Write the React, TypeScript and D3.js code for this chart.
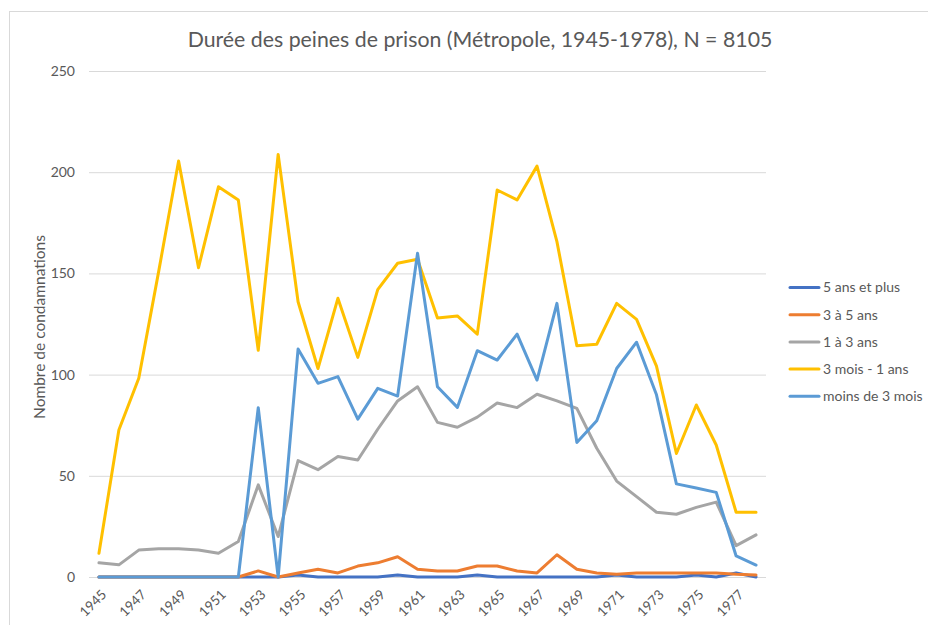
import React, { useEffect, useRef } from 'react'
import * as d3 from 'd3'

const years = d3.range(1945, 1979)

const fivePlus = [0, 0, 0, 0, 0, 0, 0, 0, 0, 0, 1, 0, 0, 0, 0, 1, 0, 0, 0, 1, 0, 0, 0, 0, 0, 0, 1, 0, 0, 0, 1, 0, 2, 0]
const threeToFive = [0, 0, 0, 0, 0, 0, 0, 0, 3, 0, 2, 3.8, 2, 5.4, 7, 10, 3.8, 3, 3, 5.4, 5.4, 3, 2, 11, 3.8, 2, 1.3, 2, 2, 2, 2, 2, 1.3, 1]
const oneToThree = [7, 6, 13.3, 14, 14, 13.3, 11.7, 17.5, 45.5, 20, 57.5, 53, 59.5, 57.8, 73, 87, 94, 76.4, 74, 79, 86, 83.7, 90.3, 87, 83.3, 63.6, 47.4, 39.7, 32, 31, 34.4, 37, 15.5, 20.8]
const threeMonthsToOne = [11.7, 72.6, 98.2, 151, 205.5, 152.8, 192.8, 186.3, 112, 208.8, 136, 103, 137.7, 108.5, 142, 155, 157, 128, 129, 120, 191.2, 186.3, 203, 165.7, 114.3, 115, 135.2, 127.3, 104.2, 61, 85, 65.2, 32, 32]
const underThreeMonths = [0, 0, 0, 0, 0, 0, 0, 0, 83.6, 0, 112.6, 95.7, 99, 78, 93.2, 89.4, 160, 94, 83.8, 111.8, 107.2, 120, 97.3, 135.2, 66.5, 77.2, 103, 116, 90, 46, 44, 41.8, 10.4, 5.9]

const seriesNames = ['5 ans et plus', '3 à 5 ans', '1 à 3 ans', '3 mois - 1 ans', 'moins de 3 mois']
const seriesColors = ['#4472C4', '#ED7D31', '#A5A5A5', '#FFC000', '#5B9BD5']
const yTicks = [0, 50, 100, 150, 200, 250]

const series = [fivePlus, threeToFive, oneToThree, threeMonthsToOne, underThreeMonths]

const App: React.FC = () => {
  const svgRef = useRef<SVGSVGElement | null>(null)

  useEffect(() => {
    if (!svgRef.current) {
      return
    }
    const width = 928
    const height = 625
    const font = 'Lato, "Open Sans", sans-serif'
    const textColor = '#595959'

    const svg = d3.select(svgRef.current)
    svg.selectAll('*').remove()

    // chart frame, cropped on the right and bottom
    svg
      .append('rect')
      .attr('x', 9.5)
      .attr('y', 11.5)
      .attr('width', width + 20)
      .attr('height', height + 20)
      .attr('fill', '#fff')
      .attr('stroke', '#d9d9d9')

    const xScale = d3
      .scaleBand<number>()
      .domain(years)
      .range([89, 766])
    const xPos = (year: number) => (xScale(year) ?? 0) + xScale.bandwidth() / 2

    const yScale = d3.scaleLinear().domain([0, 250]).range([577, 71])

    svg
      .append('text')
      .attr('x', 480)
      .attr('y', 47)
      .attr('text-anchor', 'middle')
      .attr('font-family', font)
      .attr('font-size', 21.3)
      .attr('fill', textColor)
      .text('Durée des peines de prison (Métropole, 1945-1978), N = 8105')

    const grid = svg.append('g')
    grid
      .selectAll('line')
      .data(yTicks)
      .enter()
      .append('line')
      .attr('x1', 89)
      .attr('x2', 766)
      .attr('y1', (d) => yScale(d) + 0.5)
      .attr('y2', (d) => yScale(d) + 0.5)
      .attr('stroke', '#d9d9d9')
      .attr('stroke-width', 1)

    grid
      .selectAll('text')
      .data(yTicks)
      .enter()
      .append('text')
      .attr('x', 75)
      .attr('y', (d) => yScale(d))
      .attr('dy', '0.35em')
      .attr('text-anchor', 'end')
      .attr('font-family', font)
      .attr('font-size', 14)
      .attr('fill', textColor)
      .text((d) => String(d))

    svg
      .append('text')
      .attr('transform', `translate(45, 327) rotate(-90)`)
      .attr('text-anchor', 'middle')
      .attr('font-family', font)
      .attr('font-size', 15.5)
      .attr('fill', textColor)
      .text('Nombre de condamnations')

    svg
      .append('g')
      .selectAll('text')
      .data(years.filter((y) => (y - 1945) % 2 === 0))
      .enter()
      .append('text')
      .attr('transform', (d) => `translate(${xPos(d) + 5}, 592) rotate(-45)`)
      .attr('text-anchor', 'end')
      .attr('dy', '0.35em')
      .attr('font-family', font)
      .attr('font-size', 13.5)
      .attr('fill', textColor)
      .text((d) => String(d))

    const line = d3
      .line<number>()
      .x((_, i) => xPos(years[i]))
      .y((d) => yScale(d))

    svg
      .append('g')
      .selectAll('path')
      .data(series)
      .enter()
      .append('path')
      .attr('d', (d) => line(d))
      .attr('fill', 'none')
      .attr('stroke', (_, i) => seriesColors[i])
      .attr('stroke-width', 3)
      .attr('stroke-linejoin', 'round')
      .attr('stroke-linecap', 'round')

    const legend = svg.append('g')
    const rows = legend
      .selectAll('g')
      .data(seriesNames)
      .enter()
      .append('g')
      .attr('transform', (_, i) => `translate(790, ${287.5 + i * 27.2})`)

    rows
      .append('line')
      .attr('x1', 0)
      .attr('x2', 29)
      .attr('stroke', (_, i) => seriesColors[i])
      .attr('stroke-width', 3)
      .attr('stroke-linecap', 'round')

    rows
      .append('text')
      .attr('x', 33)
      .attr('dy', '0.35em')
      .attr('font-family', font)
      .attr('font-size', 14)
      .attr('fill', textColor)
      .text((d) => d)
  }, [])

  return (
    <svg
      ref={svgRef}
      width={928}
      height={625}
      style={{ position: 'fixed', left: 0, top: 0, background: '#fff' }}
    />
  )
}

export default App
